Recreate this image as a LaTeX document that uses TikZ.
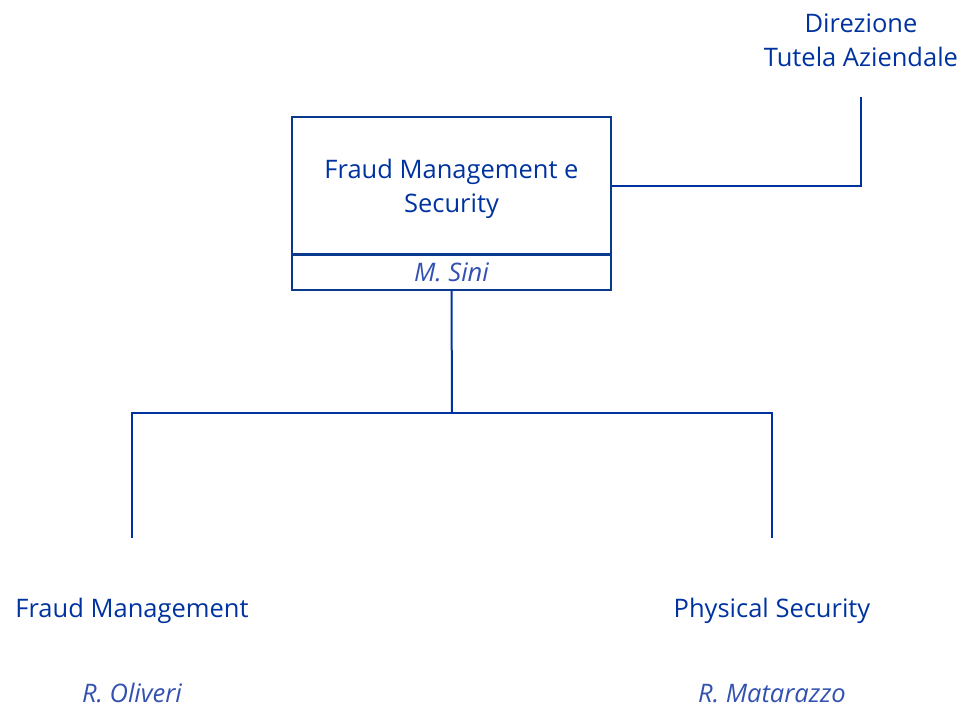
\documentclass[tikz,border=0pt]{standalone}
\usepackage{fontspec}
\setmainfont{Open Sans}
\usetikzlibrary{positioning}
\definecolor{blu}{HTML}{0033A0}
\definecolor{blunome}{HTML}{3352B0}
\definecolor{bordo}{HTML}{0A3A8E}

\begin{document}
\begin{tikzpicture}[x=1pt,y=-1pt,
    testo/.style={text=blu,font=\fontsize{25.5}{34}\selectfont,align=center},
    nome/.style={text=blunome,font=\fontsize{25.5}{34}\selectfont\itshape,inner sep=1pt},
    casella/.style={draw=bordo,line width=2.5pt,outer sep=0pt,minimum width=319pt,inner sep=0pt},
    linea/.style={draw=blu,line width=2pt}]
\useasboundingbox (0,0) rectangle (961,707);
%\draw [help lines,step=50] (0,0) grid (961,707);
\node [casella,minimum height=137pt,testo,text depth=0pt] (fms) at (451.5,185.5) {Fraud Management e\\Security};
\node [casella,minimum height=36pt,nome,below=0pt of fms] (sini) {M. Sini};
\draw [bordo,line width=3pt] (fms.south west)--(fms.south east);

\node [testo] (dir) at (861,40) {Direzione\\Tutela Aziendale};
\coordinate (capo) at (861,97);
\draw [linea] (fms.east) -| (capo);

\coordinate (snodo) at (452,413);
\coordinate (fmtop) at (132,538);
\coordinate (pstop) at (772,538);
\draw [linea] (sini.south)--(snodo);
\draw [linea] (snodo) -| (fmtop);
\draw [linea] (snodo) -| (pstop);

\node [testo,anchor=base] (fm) at (132,617) {Fraud Management};
\node [nome,anchor=base] (oliv) at (132,702) {R. Oliveri};
\node [testo,anchor=base] (ps) at (772,617) {Physical Security};
\node [nome,anchor=base] (mata) at (772,702) {R. Matarazzo};
\end{tikzpicture}
\end{document}
